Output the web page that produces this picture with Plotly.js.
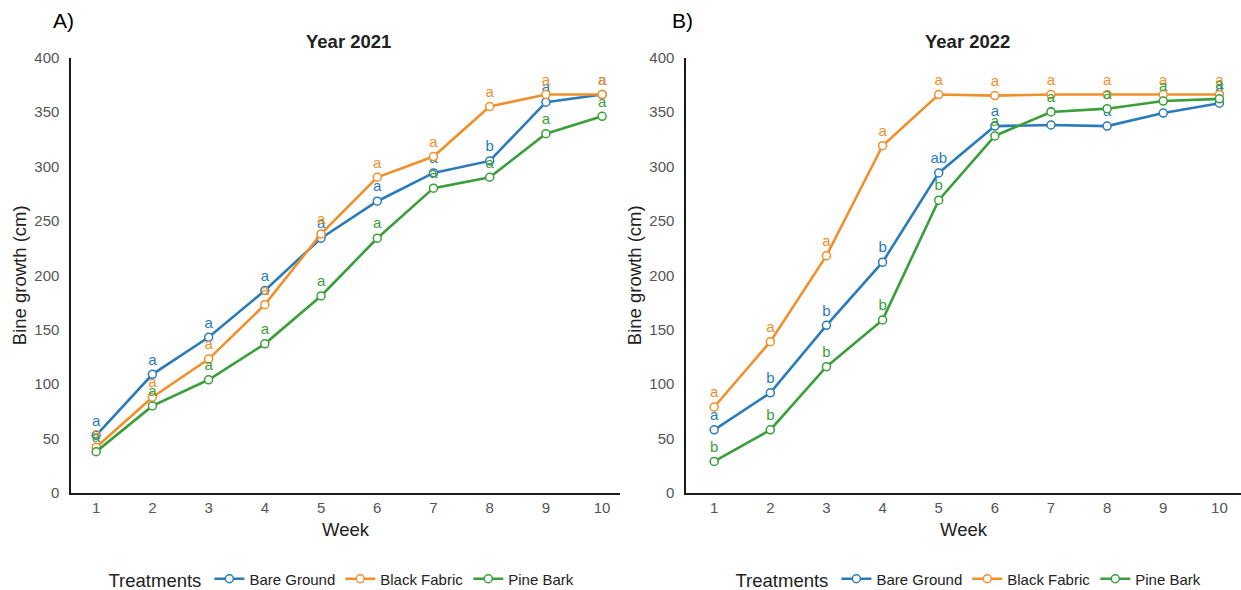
<!DOCTYPE html>
<html>
<head>
<meta charset="utf-8">
<script src="https://cdn.plot.ly/plotly-3.0.1.min.js"></script>
<style>html,body{margin:0;padding:0;background:#fff;}#chart{width:1241px;height:590px;}</style>
</head>
<body>
<div id="chart"></div>
<script>
// ---- data ----
const weeks = [1, 2, 3, 4, 5, 6, 7, 8, 9, 10];
const treatments = ["Bare Ground", "Black Fabric", "Pine Bark"];

const bare2021   = [53, 109, 143, 186, 234, 268, 294, 305, 359, 366];
const fabric2021 = [42, 88, 123, 173, 238, 290, 309, 355, 366, 366];
const pine2021   = [38, 80, 104, 137, 181, 234, 280, 290, 330, 346];
const bareLetters2021   = ["a","a","a","a","a","a","a","b","a","a"];
const fabricLetters2021 = ["a","a","a","a","a","a","a","a","a","a"];
const pineLetters2021   = ["a","a","a","a","a","a","a","a","a","a"];

const bare2022   = [58, 92, 154, 212, 294, 337, 338, 337, 349, 358];
const fabric2022 = [79, 139, 218, 319, 366, 365, 366, 366, 366, 366];
const pine2022   = [29, 58, 116, 159, 269, 328, 350, 353, 360, 362];
const bareLetters2022   = ["a","b","b","b","ab","a","a","a","a","a"];
const fabricLetters2022 = ["a","a","a","a","a","a","a","a","a","a"];
const pineLetters2022   = ["b","b","b","b","b","a","a","a","a","a"];

const yTicks = [0, 50, 100, 150, 200, 250, 300, 350, 400];

// ---- styles ----
const colors = ["#2b7bb9", "#f0902c", "#3a9f3a"];
const FONT = "Liberation Sans, Arial, sans-serif";

function mk(name, y, letters, color, xa, ya, lg) {
  return {
    type: "scatter", mode: "lines+markers+text",
    name: name, x: weeks, y: y, text: letters,
    textposition: "top center",
    textfont: {family: FONT, size: 15, color: color},
    cliponaxis: false,
    line: {color: color, width: 2.6},
    marker: {symbol: "circle", size: 8, color: "#ffffff", line: {color: color, width: 1.5}},
    xaxis: xa, yaxis: ya, legend: lg,
    hoverinfo: "x+y+name"
  };
}

const data = [
  mk(treatments[0], bare2021, bareLetters2021, colors[0], "x", "y", "legend"),
  mk(treatments[1], fabric2021, fabricLetters2021, colors[1], "x", "y", "legend"),
  mk(treatments[2], pine2021, pineLetters2021, colors[2], "x", "y", "legend"),
  mk(treatments[0], bare2022, bareLetters2022, colors[0], "x2", "y2", "legend2"),
  mk(treatments[1], fabric2022, fabricLetters2022, colors[1], "x2", "y2", "legend2"),
  mk(treatments[2], pine2022, pineLetters2022, colors[2], "x2", "y2", "legend2")
];

const W = 1241, H = 590;
function axX(domain, range, anchor) {
  return {
    domain: domain, range: range, anchor: anchor,
    tickmode: "array", tickvals: weeks, ticktext: weeks.map(String),
    showgrid: false, zeroline: false,
    showline: true, linecolor: "#1a1a1a", linewidth: 1.6,
    ticks: "", automargin: false, ticklabelstandoff: 0,
    tickfont: {family: FONT, size: 15, color: "#555555"},
    title: {text: "Week", font: {family: FONT, size: 18.5, color: "#222222"}, standoff: 8}
  };
}
function axY(domain, anchor) {
  return {
    domain: domain, range: [0, 400], anchor: anchor,
    tickmode: "array", tickvals: yTicks, ticktext: yTicks.map(String),
    showgrid: false, zeroline: false,
    showline: true, linecolor: "#1a1a1a", linewidth: 1.6,
    ticks: "", automargin: false, ticklabelstandoff: 7,
    tickfont: {family: FONT, size: 15, color: "#555555"},
    title: {text: "Bine growth (cm)", font: {family: FONT, size: 18.5, color: "#222222"}, standoff: 3}
  };
}
const yDom = [(H - 493) / H, (H - 57.5) / H];

const legendBase = (cx) => ({
  orientation: "h", x: cx / W, xanchor: "center", y: (H - 580) / H, yanchor: "middle",
  title: {text: "Treatments", side: "left", font: {family: FONT, size: 18.5, color: "#222222"}},
  font: {family: FONT, size: 15, color: "#222222"}, bgcolor: "rgba(0,0,0,0)"
});

const layout = {
  width: W, height: H,
  margin: {l: 0, r: 0, t: 0, b: 0, pad: 0, autoexpand: false},
  paper_bgcolor: "#ffffff", plot_bgcolor: "#ffffff",
  font: {family: FONT},
  showlegend: true,
  xaxis: axX([71 / W, 620 / W], [0.552, 10.318], "y"),
  yaxis: axY(yDom, "x"),
  xaxis2: axX([686 / W, 1], [0.498, 10.385], "y2"),
  yaxis2: axY(yDom, "x2"),
  legend: legendBase(343),
  legend2: legendBase(970),
  annotations: [
    {text: "A)", x: 63 / W, y: (H - 21) / H, xref: "paper", yref: "paper", showarrow: false,
     xanchor: "center", yanchor: "middle", font: {family: FONT, size: 21, color: "#000000"}},
    {text: "B)", x: 682 / W, y: (H - 21) / H, xref: "paper", yref: "paper", showarrow: false,
     xanchor: "center", yanchor: "middle", font: {family: FONT, size: 21, color: "#000000"}},
    {text: "<b>Year 2021</b>", x: 348 / W, y: (H - 41) / H, xref: "paper", yref: "paper", showarrow: false,
     xanchor: "center", yanchor: "middle", font: {family: FONT, size: 18.5, color: "#222222"}},
    {text: "<b>Year 2022</b>", x: 967 / W, y: (H - 42) / H, xref: "paper", yref: "paper", showarrow: false,
     xanchor: "center", yanchor: "middle", font: {family: FONT, size: 18.5, color: "#222222"}}
  ]
};

Plotly.newPlot("chart", data, layout, {displayModeBar: false, staticPlot: true});
</script>
</body>
</html>
